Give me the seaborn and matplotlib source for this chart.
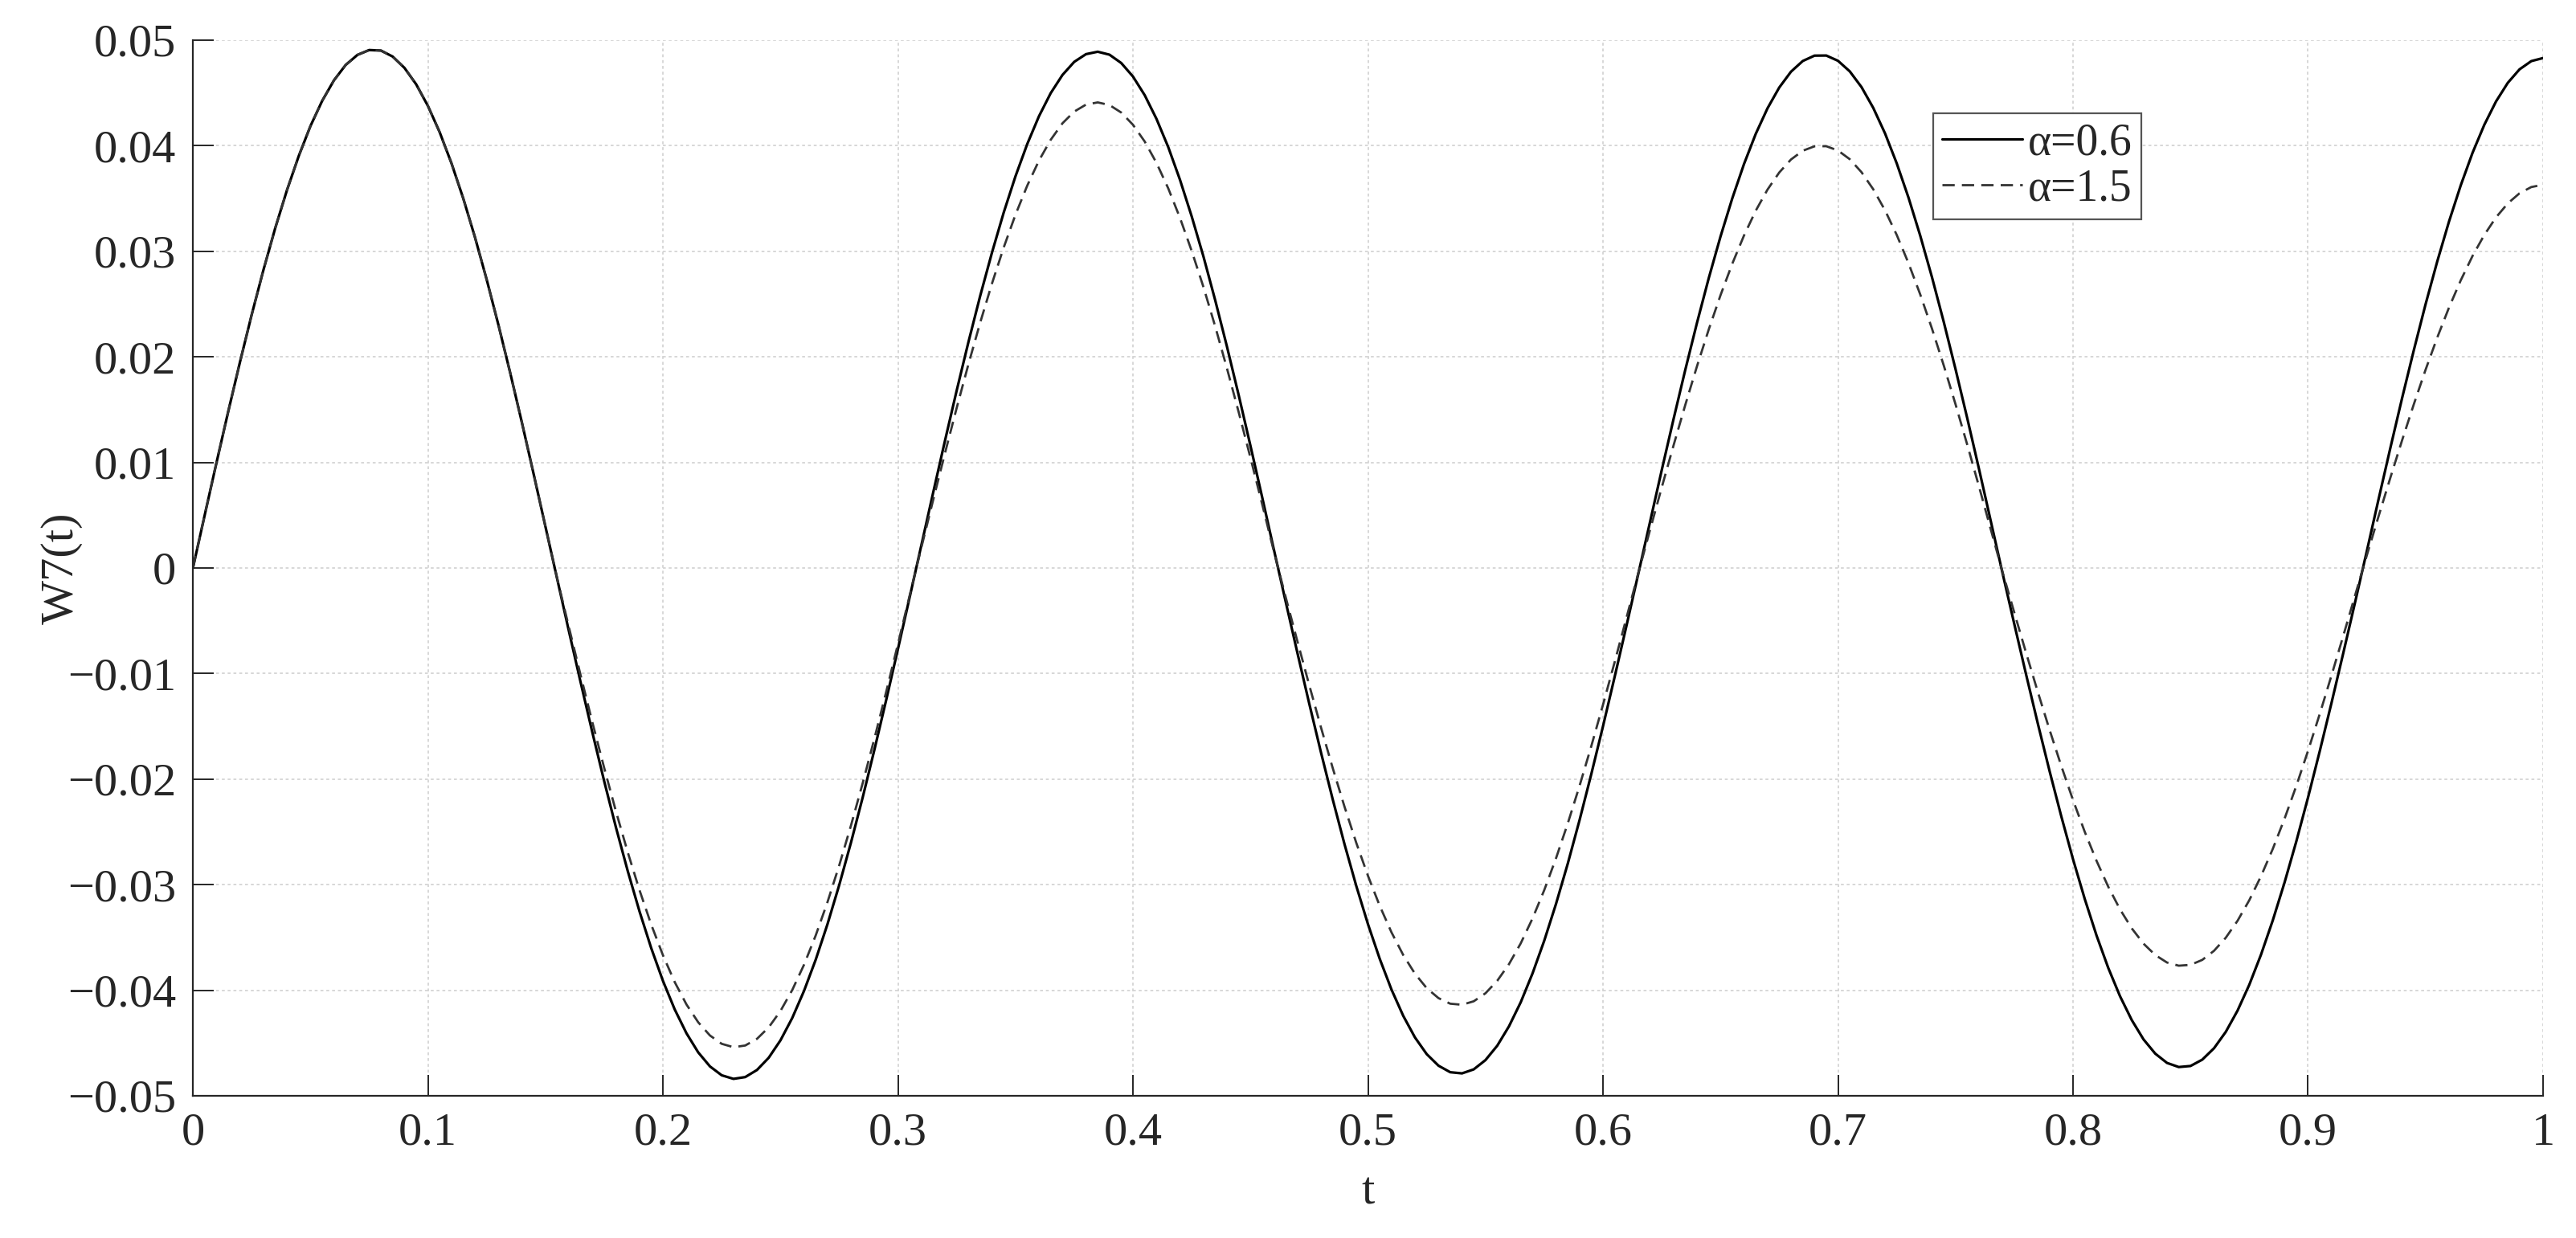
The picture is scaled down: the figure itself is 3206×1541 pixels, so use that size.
import matplotlib
matplotlib.use("Agg")
import matplotlib.pyplot as plt
import pandas as pd
import seaborn as sns

# --------------------------------------------------
# Data (t step 0.005)
# --------------------------------------------------
t_values = [round(i * 0.005, 3) for i in range(201)]

w_alpha_06 = [
    0.0, 0.00500, 0.00995, 0.01480, 0.01949, 0.02399, 0.02823, 0.03218, 0.03578, 0.03901,
    0.04186, 0.04425, 0.04619, 0.04765, 0.04860, 0.04906, 0.04901, 0.04844, 0.04737, 0.04581,
    0.04376, 0.04127, 0.03834, 0.03502, 0.03133, 0.02731, 0.02301, 0.01848, 0.01375, 0.00887,
    0.00390, -0.00109, -0.00601, -0.01087, -0.01562, -0.02021, -0.02458, -0.02870, -0.03252, -0.03601,
    -0.03912, -0.04182, -0.04408, -0.04589, -0.04722, -0.04806, -0.04840, -0.04823, -0.04756, -0.04640,
    -0.04475, -0.04264, -0.04008, -0.03711, -0.03375, -0.03004, -0.02602, -0.02173, -0.01720, -0.01250,
    -0.00767, -0.00276, 0.00220, 0.00716, 0.01205, 0.01682, 0.02141, 0.02578, 0.02987, 0.03367,
    0.03710, 0.04015, 0.04279, 0.04498, 0.04670, 0.04794, 0.04867, 0.04890, 0.04862, 0.04783,
    0.04655, 0.04478, 0.04254, 0.03987, 0.03677, 0.03329, 0.02949, 0.02535, 0.02096, 0.01635,
    0.01156, 0.00667, 0.00170, -0.00322, -0.00808, -0.01285, -0.01748, -0.02193, -0.02616, -0.03011,
    -0.03375, -0.03703, -0.03994, -0.04243, -0.04448, -0.04606, -0.04715, -0.04777, -0.04788, -0.04750,
    -0.04662, -0.04526, -0.04342, -0.04114, -0.03842, -0.03531, -0.03183, -0.02802, -0.02391, -0.01955,
    -0.01500, -0.01028, -0.00547, -0.00058, 0.00436, 0.00927, 0.01408, 0.01875, 0.02322, 0.02745,
    0.03139, 0.03500, 0.03826, 0.04112, 0.04354, 0.04551, 0.04701, 0.04802, 0.04853, 0.04854,
    0.04804, 0.04704, 0.04555, 0.04358, 0.04117, 0.03832, 0.03508, 0.03147, 0.02753, 0.02330,
    0.01884, 0.01418, 0.00937, 0.00446, -0.00048, -0.00530, -0.01006, -0.01472, -0.01922, -0.02352,
    -0.02759, -0.03136, -0.03481, -0.03789, -0.04057, -0.04283, -0.04466, -0.04601, -0.04689, -0.04728,
    -0.04718, -0.04658, -0.04550, -0.04395, -0.04194, -0.03949, -0.03663, -0.03339, -0.02981, -0.02592,
    -0.02175, -0.01735, -0.01278, -0.00807, -0.00328, 0.00157, 0.00649, 0.01133, 0.01606, 0.02061,
    0.02496, 0.02904, 0.03282, 0.03625, 0.03932, 0.04197, 0.04419, 0.04595, 0.04723, 0.04801,
    0.04830,
]

w_alpha_15 = [
    0.0, 0.00500, 0.00995, 0.01480, 0.01949, 0.02399, 0.02823, 0.03218, 0.03578, 0.03901,
    0.04186, 0.04425, 0.04619, 0.04765, 0.04860, 0.04906, 0.04901, 0.04844, 0.04737, 0.04581,
    0.04376, 0.04127, 0.03834, 0.03502, 0.03133, 0.02731, 0.02301, 0.01848, 0.01375, 0.00887,
    0.00390, -0.00102, -0.00563, -0.01020, -0.01466, -0.01895, -0.02306, -0.02692, -0.03051, -0.03378,
    -0.03669, -0.03923, -0.04135, -0.04304, -0.04429, -0.04508, -0.04540, -0.04524, -0.04461, -0.04352,
    -0.04197, -0.03999, -0.03760, -0.03481, -0.03166, -0.02818, -0.02440, -0.02038, -0.01614, -0.01173,
    -0.00720, -0.00259, 0.00198, 0.00646, 0.01087, 0.01517, 0.01931, 0.02325, 0.02694, 0.03036,
    0.03346, 0.03621, 0.03859, 0.04056, 0.04212, 0.04323, 0.04389, 0.04410, 0.04385, 0.04314,
    0.04198, 0.04039, 0.03837, 0.03596, 0.03316, 0.03002, 0.02660, 0.02287, 0.01890, 0.01474,
    0.01043, 0.00602, 0.00153, -0.00279, -0.00698, -0.01110, -0.01511, -0.01896, -0.02261, -0.02603,
    -0.02917, -0.03201, -0.03452, -0.03667, -0.03844, -0.03981, -0.04075, -0.04128, -0.04138, -0.04105,
    -0.04029, -0.03911, -0.03753, -0.03556, -0.03321, -0.03052, -0.02751, -0.02421, -0.02066, -0.01690,
    -0.01296, -0.00889, -0.00472, -0.00051, 0.00359, 0.00763, 0.01159, 0.01543, 0.01911, 0.02259,
    0.02583, 0.02881, 0.03149, 0.03384, 0.03584, 0.03746, 0.03869, 0.03952, 0.03994, 0.03995,
    0.03954, 0.03872, 0.03749, 0.03587, 0.03388, 0.03154, 0.02887, 0.02590, 0.02266, 0.01918,
    0.01551, 0.01167, 0.00771, 0.00367, -0.00038, -0.00422, -0.00802, -0.01173, -0.01532, -0.01875,
    -0.02199, -0.02500, -0.02774, -0.03020, -0.03234, -0.03414, -0.03559, -0.03667, -0.03738, -0.03768,
    -0.03760, -0.03713, -0.03627, -0.03503, -0.03343, -0.03148, -0.02920, -0.02662, -0.02376, -0.02066,
    -0.01733, -0.01383, -0.01018, -0.00643, -0.00262, 0.00118, 0.00488, 0.00852, 0.01207, 0.01549,
    0.01876, 0.02183, 0.02467, 0.02725, 0.02955, 0.03154, 0.03321, 0.03453, 0.03549, 0.03608,
    0.03630,
]

series_labels = ["\u03b1=0.6", "\u03b1=1.5"]

x_ticks = [0, 0.1, 0.2, 0.3, 0.4, 0.5, 0.6, 0.7, 0.8, 0.9, 1]
x_ticklabels = ["0", "0.1", "0.2", "0.3", "0.4", "0.5", "0.6", "0.7", "0.8", "0.9", "1"]
y_ticks = [-0.05, -0.04, -0.03, -0.02, -0.01, 0, 0.01, 0.02, 0.03, 0.04, 0.05]
y_ticklabels = ["\u22120.05", "\u22120.04", "\u22120.03", "\u22120.02", "\u22120.01", "0",
                "0.01", "0.02", "0.03", "0.04", "0.05"]

df = pd.DataFrame({"t": t_values, "a06": w_alpha_06, "a15": w_alpha_15})

# --------------------------------------------------
# Style (MATLAB-like look)
# --------------------------------------------------
sns.set_theme(style="ticks")
plt.rcParams["font.family"] = ["Liberation Serif", "DejaVu Serif"]

fig, ax = plt.subplots(figsize=(32.06, 15.41), dpi=100)
fig.subplots_adjust(left=0.0749, right=0.9872, bottom=0.1149, top=0.9676)

sns.lineplot(data=df, x="t", y="a06", ax=ax, color="#000000", linewidth=2.3,
             label=series_labels[0], sort=False, errorbar=None)
sns.lineplot(data=df, x="t", y="a15", ax=ax, color="#333333", linewidth=2.0,
             label=series_labels[1], sort=False, errorbar=None)
ax.lines[1].set_dashes((5.5, 3.2))

ax.set_xlim(0, 1)
ax.set_ylim(-0.05, 0.05)
ax.set_xticks(x_ticks)
ax.set_xticklabels(x_ticklabels)
ax.set_yticks(y_ticks)
ax.set_yticklabels(y_ticklabels)

ax.grid(True, color="#d4d4d4", linestyle=(0, (2, 2)), linewidth=1.3)
ax.set_axisbelow(True)

for side in ["top", "right"]:
    ax.spines[side].set_visible(False)
for side in ["left", "bottom"]:
    ax.spines[side].set_color("#262626")
    ax.spines[side].set_linewidth(1.6)

ax.tick_params(axis="both", direction="in", length=19, width=1.4, color="#262626",
               labelsize=42, pad=15, labelcolor="#262626")

ax.set_xlabel("t", fontsize=42, color="#262626")
ax.set_ylabel("W7(t)", fontsize=42, color="#262626")
ax.xaxis.set_label_coords(0.5, -0.072)
ax.yaxis.set_label_coords(-0.047, 0.5)

leg = ax.legend(loc="upper left", bbox_to_anchor=(0.7405, 0.9307), fontsize=40,
                frameon=True, fancybox=False, handlelength=1.8, handletextpad=0.12,
                labelspacing=0.1, borderpad=0.2, borderaxespad=0.0)
leg.get_frame().set_edgecolor("#555555")
leg.get_frame().set_linewidth(1.6)
leg.get_frame().set_alpha(1.0)

fig.savefig("out.png", dpi=100, facecolor="white")
plt.close(fig)
